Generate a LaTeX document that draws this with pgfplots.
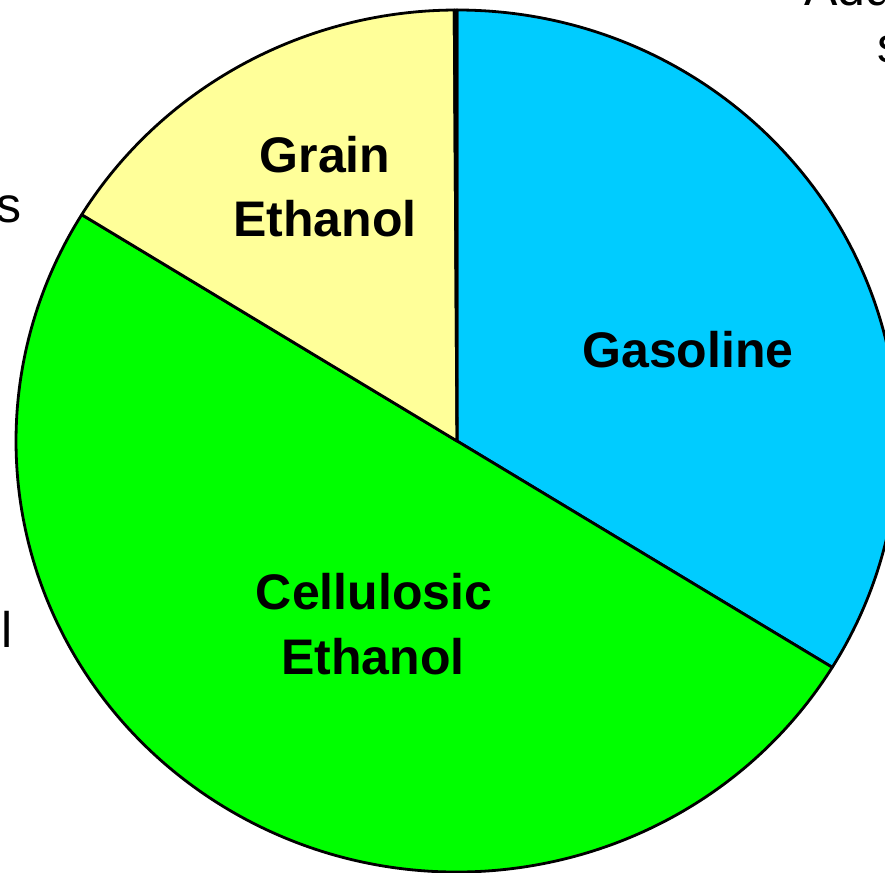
\documentclass[border=0pt]{standalone}
\usepackage{fontspec}
\setmainfont{Liberation Sans}
\usepackage{pgfplots}
\pgfplotsset{compat=1.18}
\usepackage{pgfplotstable}
\definecolor{gasblue}{HTML}{00CCFF}
\definecolor{celgreen}{HTML}{00FF00}
\definecolor{grainyellow}{HTML}{FFFF99}
\definecolor{addcol}{HTML}{FF99CC}
\pgfplotstableread{
name value color
Gasoline 33.8 gasblue
Cellulosic 50.0 celgreen
Grain 16.1 grainyellow
Additives 0.1 addcol
}\pietable
\begin{document}
\begin{tikzpicture}
\path[use as bounding box] (0pt,0pt) rectangle (442.5pt,436.5pt);
\clip (0pt,0pt) rectangle (442.5pt,436.5pt);
\begin{axis}[at={(0pt,0pt)}, anchor=south west, scale only axis,
  width=442.5pt, height=436.5pt, hide axis, clip=false,
  xmin=0, xmax=885, ymin=0, ymax=873]
\pgfplotstablegetrowsof{\pietable}
\pgfmathtruncatemacro\nrows{\pgfplotsretval-1}
\gdef\curang{90}
\pgfplotsforeachungrouped \i in {0,...,\nrows}{%
  \pgfplotstablegetelem{\i}{value}\of\pietable \let\sliceval\pgfplotsretval
  \pgfplotstablegetelem{\i}{color}\of\pietable \let\slicecol\pgfplotsretval
  \pgfmathsetmacro\sang{\curang}%
  \pgfmathsetmacro\eang{\curang-3.6*\sliceval}%
  \xdef\curang{\eang}%
  \edef\temp{\noexpand\filldraw[fill=\slicecol, draw=black, line width=1.4pt, line join=round]
    (axis cs:457,432) -- ++(\sang:220.5pt and 215.5pt)
    arc[start angle=\sang, end angle=\eang, x radius=220.5pt, y radius=215.5pt] -- cycle;}%
  \temp
}
\tikzset{lab/.style={anchor=base, font=\bfseries\fontsize{25}{31}\selectfont},
         olab/.style={font=\fontsize{25}{29}\selectfont}}
\node[lab] at (axis cs:325,700) {Grain};
\node[lab] at (axis cs:325,636) {Ethanol};
\node[lab] at (axis cs:688,505) {Gasoline};
\node[lab] at (axis cs:374,263) {Cellulosic};
\node[lab] at (axis cs:373,198) {Ethanol};
\node[olab, anchor=base west] at (axis cs:797,867) {Additives};
\node[olab, anchor=base west] at (axis cs:870.5,810) {s};
\node[olab, anchor=base east] at (axis cs:29,650) {s};
\node[olab, anchor=base east] at (axis cs:20,225) {ol};
\end{axis}
\end{tikzpicture}
\end{document}
